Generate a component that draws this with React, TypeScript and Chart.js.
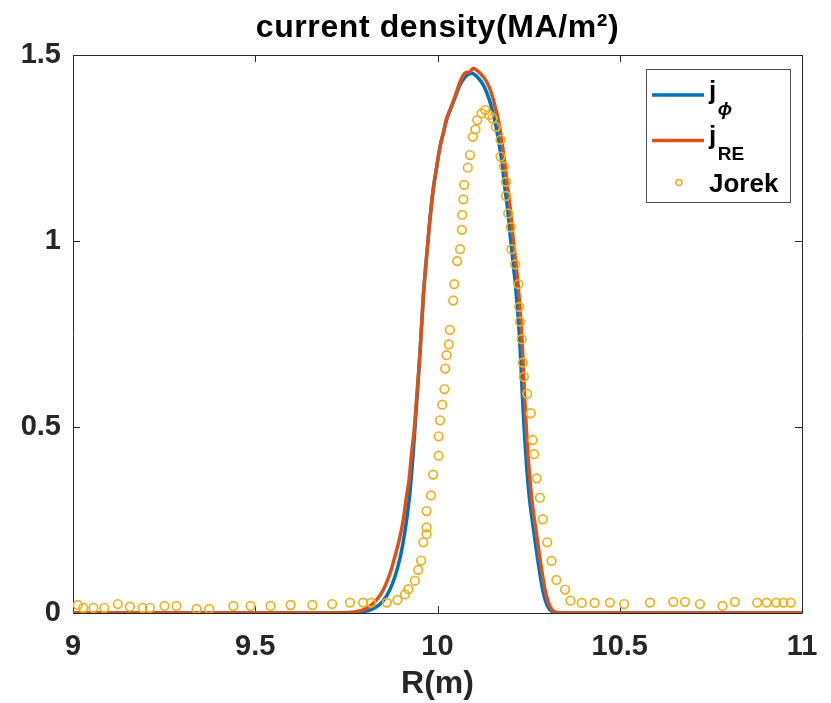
import React, { useEffect, useRef } from "react";
import { Chart, registerables } from "chart.js";

Chart.register(...registerables);

// ---------- data ----------
const titleText = "current density(MA/m²)";
const xAxisTitle = "R(m)";

const xTickValues = [9, 9.5, 10, 10.5, 11];
const xTickLabels = ["9", "9.5", "10", "10.5", "11"];
const yTickValues = [0, 0.5, 1, 1.5];
const yTickLabels = ["0", "0.5", "1", "1.5"];

const legendMain = ["j", "j", "Jorek"];
const legendSub = ["ϕ", "RE", ""];

// j_phi (blue)
const jPhiR = [
  9.0, 9.5, 9.72, 9.78, 9.815, 9.84, 9.86, 9.877, 9.89, 9.901, 9.91, 9.918, 9.925, 9.931,
  9.937, 9.944, 9.952, 9.961, 9.97, 9.979, 9.988, 9.998, 10.007, 10.016, 10.025, 10.034,
  10.048, 10.062, 10.075, 10.088, 10.094, 10.11, 10.128, 10.142, 10.152, 10.161, 10.17,
  10.177, 10.184, 10.193, 10.2, 10.207, 10.214, 10.22, 10.225, 10.229, 10.233, 10.238,
  10.244, 10.252, 10.264, 10.277, 10.289, 10.302, 10.315, 10.34, 11.0,
];
const jPhiVal = [
  0, 0, 0, 0.002, 0.008, 0.022, 0.045, 0.08, 0.12, 0.165, 0.215, 0.27, 0.33, 0.4,
  0.48, 0.581, 0.7, 0.85, 0.958, 1.056, 1.137, 1.2, 1.254, 1.29, 1.325, 1.35,
  1.385, 1.42, 1.44, 1.45, 1.451, 1.44, 1.415, 1.38, 1.345, 1.305, 1.255,
  1.21, 1.15, 1.08, 1.01, 0.945, 0.88, 0.81, 0.74, 0.665, 0.58, 0.49,
  0.4, 0.31, 0.22, 0.13, 0.06, 0.018, 0.004, 0, 0,
];

// j_RE (red-orange)
const jReR = [
  9.0, 9.5, 9.7, 9.769, 9.806, 9.833, 9.851, 9.87, 9.883, 9.897, 9.906, 9.915, 9.922,
  9.929, 9.936, 9.943, 9.952, 9.961, 9.97, 9.979, 9.988, 9.998, 10.007, 10.016, 10.025,
  10.034, 10.048, 10.062, 10.075, 10.089, 10.098, 10.117, 10.135, 10.148, 10.158, 10.167,
  10.176, 10.182, 10.19, 10.199, 10.206, 10.213, 10.22, 10.226, 10.231, 10.235, 10.239,
  10.244, 10.25, 10.258, 10.27, 10.283, 10.295, 10.309, 10.322, 10.35, 11.0,
];
const jReVal = [
  0, 0, 0, 0.002, 0.013, 0.035, 0.062, 0.107, 0.151, 0.205, 0.25, 0.313, 0.358,
  0.43, 0.492, 0.581, 0.7, 0.85, 0.958, 1.056, 1.137, 1.2, 1.254, 1.29, 1.33,
  1.352, 1.388, 1.428, 1.451, 1.455, 1.464, 1.451, 1.428, 1.397, 1.361, 1.325,
  1.272, 1.227, 1.164, 1.092, 1.021, 0.958, 0.895, 0.823, 0.752, 0.671, 0.581,
  0.492, 0.402, 0.313, 0.223, 0.134, 0.062, 0.017, 0.003, 0, 0,
];

// Jorek (circles)
const jorekR = [
  9.013, 9.028, 9.056, 9.086, 9.123, 9.156, 9.191, 9.211, 9.251, 9.284, 9.339, 9.374,
  9.44, 9.487, 9.542, 9.597, 9.657, 9.711, 9.76, 9.796, 9.818, 9.861, 9.89, 9.911,
  9.92, 9.938, 9.947, 9.955, 9.961, 9.97, 9.97, 9.97, 9.982, 9.988, 10.003, 10.003,
  10.007, 10.013, 10.019, 10.021, 10.025, 10.031, 10.034, 10.043, 10.046, 10.054,
  10.062, 10.067, 10.068, 10.071, 10.073, 10.083, 10.089, 10.097, 10.104, 10.109,
  10.121, 10.131, 10.141, 10.151, 10.16, 10.173, 10.173, 10.182, 10.188, 10.188,
  10.194, 10.201, 10.203, 10.213, 10.222, 10.224, 10.226, 10.231, 10.234, 10.237,
  10.246, 10.256, 10.261, 10.265, 10.272, 10.281, 10.289, 10.301, 10.313, 10.326,
  10.35, 10.365, 10.396, 10.431, 10.473, 10.512, 10.583, 10.647, 10.679, 10.72,
  10.782, 10.816, 10.877, 10.903, 10.929, 10.949, 10.969,
];
const jorekVal = [
  0.0215, 0.014, 0.014, 0.014, 0.024, 0.017, 0.014, 0.014, 0.019, 0.019, 0.011, 0.011,
  0.019, 0.019, 0.019, 0.0215, 0.0215, 0.024, 0.028, 0.028, 0.028, 0.028, 0.035, 0.05,
  0.064, 0.087, 0.116, 0.141, 0.19, 0.212, 0.23, 0.274, 0.316, 0.372, 0.423, 0.475,
  0.518, 0.56, 0.602, 0.657, 0.693, 0.722, 0.761, 0.84, 0.884, 0.946,
  0.978, 1.03, 1.07, 1.112, 1.151, 1.197, 1.231, 1.28, 1.3, 1.325,
  1.343, 1.352, 1.339, 1.33, 1.307, 1.272, 1.227, 1.2, 1.159, 1.121,
  1.074, 1.037, 0.978, 0.937, 0.884, 0.823, 0.783, 0.736, 0.673, 0.635,
  0.589, 0.537, 0.465, 0.427, 0.362, 0.31, 0.252, 0.19, 0.14, 0.089,
  0.063, 0.033, 0.027, 0.027, 0.028, 0.024, 0.028, 0.03, 0.03, 0.024,
  0.019, 0.03, 0.028, 0.028, 0.028, 0.028, 0.028,
];

// ---------- styling ----------
const FONT = "'Liberation Sans', Arial, Helvetica, sans-serif";
const AXIS_COLOR = "#262626";
const BLUE = "#0072BD";
const RED = "#D95319";
const YELLOW = "#EDB120";

const toPoints = (xs: number[], ys: number[]) => xs.map((x, i) => ({ x, y: ys[i] }));

const titlePlugin = {
  id: "matTitle",
  afterDraw(chart: any) {
    const { ctx, chartArea } = chart;
    ctx.save();
    ctx.fillStyle = "#000000";
    ctx.font = `bold 32px ${FONT}`;
    try {
      (ctx as any).letterSpacing = "0.6px";
    } catch (e) {}
    ctx.textAlign = "center";
    ctx.textBaseline = "alphabetic";
    ctx.fillText(titleText, (chartArea.left + chartArea.right) / 2, 37);
    ctx.restore();
  },
};

const framePlugin = {
  id: "matFrame",
  beforeDatasetsDraw(chart: any) {
    const { ctx, chartArea } = chart;
    const { left, right, top, bottom } = chartArea;
    const xs = chart.scales.x;
    const ys = chart.scales.y;
    const tl = 7;
    ctx.save();
    ctx.strokeStyle = AXIS_COLOR;
    ctx.lineWidth = 1;
    ctx.beginPath();
    ctx.rect(Math.round(left) + 0.5, Math.round(top) + 0.5, Math.round(right - left), Math.round(bottom - top));
    ctx.stroke();
    ctx.beginPath();
    xs.ticks.forEach((t: any) => {
      const px = Math.round(xs.getPixelForValue(t.value)) + 0.5;
      ctx.moveTo(px, bottom);
      ctx.lineTo(px, bottom - tl);
      ctx.moveTo(px, top);
      ctx.lineTo(px, top + tl);
    });
    ys.ticks.forEach((t: any) => {
      const py = Math.round(ys.getPixelForValue(t.value)) + 0.5;
      ctx.moveTo(left, py);
      ctx.lineTo(left + tl, py);
      ctx.moveTo(right, py);
      ctx.lineTo(right - tl, py);
    });
    ctx.stroke();
    ctx.restore();
  },
};

const legendPlugin = {
  id: "matLegend",
  afterDraw(chart: any) {
    const { ctx, chartArea } = chart;
    const w = 144;
    const h = 133;
    const bx = chartArea.right - 12 - w;
    const by = chartArea.top + 14;
    ctx.save();
    ctx.fillStyle = "#ffffff";
    ctx.fillRect(bx, by, w, h);
    ctx.strokeStyle = "#4d4d4d";
    ctx.lineWidth = 1;
    ctx.strokeRect(Math.round(bx) + 0.5, Math.round(by) + 0.5, w, h);

    const ds = chart.data.datasets;
    const rowsY = [26, 71.5, 113.5];
    const baseY = [30, 75, 122.5];
    const textX = bx + 63;
    ctx.textBaseline = "alphabetic";
    ctx.textAlign = "left";
    for (let i = 0; i < legendMain.length; i++) {
      const d = ds[i];
      const ly = by + rowsY[i];
      if (d.showLine === false) {
        ctx.beginPath();
        ctx.strokeStyle = d.borderColor;
        ctx.lineWidth = 1.5;
        ctx.arc(bx + 33, ly, 3, 0, Math.PI * 2);
        ctx.stroke();
      } else {
        ctx.beginPath();
        ctx.strokeStyle = d.borderColor;
        ctx.lineWidth = 3.5;
        ctx.moveTo(bx + 6, ly);
        ctx.lineTo(bx + 58, ly);
        ctx.stroke();
      }
      ctx.fillStyle = "#000000";
      ctx.font = `bold 26px ${FONT}`;
      const ty = by + baseY[i];
      ctx.fillText(legendMain[i], textX, ty);
      if (legendSub[i]) {
        const mw = ctx.measureText(legendMain[i]).width;
        ctx.font = legendSub[i] === "ϕ" ? `bold italic 19px ${FONT}` : `bold 19px ${FONT}`;
        ctx.fillText(legendSub[i], textX + mw + 1.5, ty + 16);
      }
    }
    ctx.restore();
  },
};

export default function App() {
  const canvasRef = useRef<HTMLCanvasElement | null>(null);

  useEffect(() => {
    const canvas = canvasRef.current;
    if (!canvas) return;
    const chart = new Chart(canvas, {
      type: "line",
      data: {
        datasets: [
          {
            label: "j_phi",
            data: toPoints(jPhiR, jPhiVal),
            borderColor: BLUE,
            backgroundColor: BLUE,
            borderWidth: 3.5,
            pointRadius: 0,
            cubicInterpolationMode: "monotone",
            order: 2,
          },
          {
            label: "j_RE",
            data: toPoints(jReR, jReVal),
            borderColor: RED,
            backgroundColor: RED,
            borderWidth: 3.5,
            pointRadius: 0,
            cubicInterpolationMode: "monotone",
            order: 1,
          },
          {
            label: "Jorek",
            data: toPoints(jorekR, jorekVal),
            showLine: false,
            borderColor: YELLOW,
            backgroundColor: "rgba(0,0,0,0)",
            pointRadius: 4.3,
            pointBorderWidth: 1.7,
            pointStyle: "circle",
            order: 0,
          },
        ],
      },
      options: {
        responsive: false,
        animation: false,
        devicePixelRatio: 1,
        layout: { padding: { left: 0, right: 29, top: 55, bottom: 0 } },
        plugins: {
          legend: { display: false },
          tooltip: { enabled: false },
          title: { display: false },
        },
        scales: {
          x: {
            type: "linear",
            min: 9,
            max: 11,
            grid: { display: false, drawTicks: false },
            border: { display: false },
            afterBuildTicks: (s: any) => {
              s.ticks = xTickValues.map((v) => ({ value: v }));
            },
            afterFit: (s: any) => {
              s.height = 90;
              s.paddingLeft = 0;
              s.paddingRight = 0;
            },
            ticks: {
              color: AXIS_COLOR,
              font: { family: FONT, size: 29, weight: "bold" },
              padding: 17,
              maxRotation: 0,
              autoSkip: false,
              callback: (_v: any, i: number) => xTickLabels[i],
            },
            title: {
              display: true,
              text: xAxisTitle,
              color: AXIS_COLOR,
              font: { family: FONT, size: 32, weight: "bold" },
              padding: { top: 0, bottom: 0 },
            },
          },
          y: {
            type: "linear",
            min: 0,
            max: 1.5,
            grid: { display: false, drawTicks: false },
            border: { display: false },
            afterBuildTicks: (s: any) => {
              s.ticks = yTickValues.map((v) => ({ value: v }));
            },
            afterFit: (s: any) => {
              s.width = 73;
              s.paddingTop = 0;
              s.paddingBottom = 0;
            },
            ticks: {
              color: AXIS_COLOR,
              font: { family: FONT, size: 29, weight: "bold" },
              padding: 12,
              autoSkip: false,
              callback: (_v: any, i: number) => yTickLabels[i],
            },
          },
        },
      } as any,
      plugins: [framePlugin, legendPlugin, titlePlugin],
    });
    return () => chart.destroy();
  }, []);

  return (
    <div style={{ position: "absolute", left: 0, top: 0, width: 831, height: 703, background: "#fff" }}>
      <canvas ref={canvasRef} width={831} height={703} style={{ width: 831, height: 703, display: "block" }} />
    </div>
  );
}
